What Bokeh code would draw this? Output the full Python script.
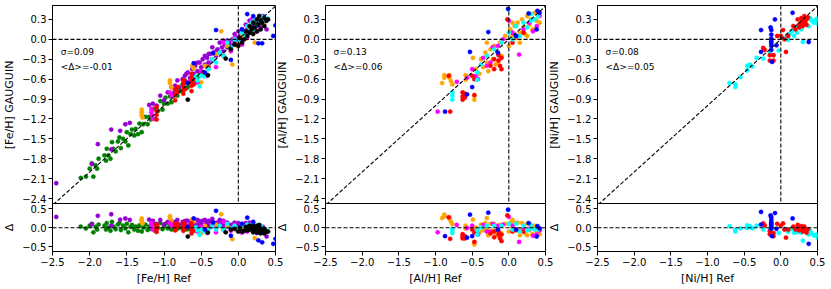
from bokeh.plotting import figure
from bokeh.layouts import row, column
from bokeh.models import (Range1d, FixedTicker, CustomJSTickFormatter, Span, Slope,
                          Label, ColumnDataSource)
from bokeh.embed import file_html
from bokeh.resources import INLINE

FONT = "DejaVu Sans"

# ---------------- tick values ----------------
x_ticks = [-2.5, -2.0, -1.5, -1.0, -0.5, 0.0, 0.5]
main_ticks = [0.3, 0.0, -0.3, -0.6, -0.9, -1.2, -1.5, -1.8, -2.1, -2.4]
res_ticks = [0.5, 0.0, -0.5]

# ---------------- [Fe/H] panel ----------------
fe_green_ref = [-2.12, -2.05, -2.0, -1.97, -1.95, -1.92, -1.9, -1.88, -1.8, -1.78, -1.77, -1.75, -1.72, -1.7,
                -1.68, -1.65, -1.62, -1.6, -1.58, -1.55, -1.52, -1.5, -1.48, -1.45, -1.43, -1.4, -1.38, -1.35,
                -1.33, -1.3, -1.28, -1.25, -1.22, -1.2, -1.18, -1.15, -1.12, -1.1, -1.08, -1.05, -1.02, -1.0,
                -0.98, -0.95, -0.92, -0.9, -0.88, -0.85, -0.82, -0.8, -0.78, -0.75, -0.7, -0.65, -0.6, -0.55,
                -0.72, -0.68, -0.62, -0.58, -0.52]
fe_green_gau = [-2.09, -2.07, -1.95, -1.87, -2.07, -1.90, -1.95, -1.80, -1.75, -1.83, -1.65, -1.75, -1.80, -1.55,
                -1.65, -1.69, -1.54, -1.48, -1.64, -1.50, -1.54, -1.40, -1.60, -1.43, -1.36, -1.45, -1.35, -1.43,
                -1.27, -1.40, -1.28, -1.17, -1.28, -1.17, -1.21, -1.05, -1.20, -1.05, -1.08, -0.93, -1.06, -0.97,
                -0.88, -0.97, -0.86, -0.95, -0.86, -0.77, -0.85, -0.75, -0.78, -0.68, -0.74, -0.63, -0.55, -0.57,
                -0.62, -0.72, -0.58, -0.65, -0.50]

fe_purple_ref = [-2.45, -1.97, -1.89, -1.71, -1.71, -1.59, -1.52, -1.46, -1.2, -1.15, -1.1, -1.05, -1.0, -0.95,
                 -0.9, -0.88, -0.85, -0.82, -0.8, -0.75, -0.72, -0.7, -0.68, -0.65, -0.62, -0.6, -0.58, -0.55,
                 -0.52, -0.5, -0.48, -0.45, -0.42, -0.4, -0.38, -0.35, -0.33, -0.3, -0.28, -0.25, -0.22, -0.2,
                 -0.18, -0.15, -0.12, -0.1, -0.08, -0.05, -0.03, 0.0, 0.02, 0.05, 0.08, 0.1, 0.12, 0.15, 0.18,
                 0.2, 0.22, 0.25, 0.28, 0.3, 0.33, 0.35, -0.3, -0.15, 0.05, 0.25, -0.55, -0.2, -0.4, 0.1, -0.7,
                 0.38, -0.45, -0.25, -0.05, 0.15, 0.3, -0.35, -0.6, 0.0, 0.2]
fe_purple_gau = [-2.17, -1.88, -1.58, -1.36, -1.66, -1.38, -1.28, -1.26, -0.99, -0.97, -1.0, -0.85, -0.92, -0.80,
                 -0.72, -0.82, -0.70, -0.62, -0.72, -0.60, -0.55, -0.65, -0.50, -0.58, -0.45, -0.52, -0.40, -0.48,
                 -0.35, -0.42, -0.30, -0.38, -0.28, -0.35, -0.22, -0.30, -0.20, -0.25, -0.15, -0.20, -0.12, -0.18,
                 -0.08, -0.12, -0.05, -0.10, 0.0, -0.05, 0.03, -0.02, 0.05, 0.0, 0.10, 0.05, 0.15, 0.10, 0.20,
                 0.15, 0.25, 0.20, 0.30, 0.25, 0.35, 0.28, -0.18, -0.02, 0.15, 0.12, -0.35, -0.02, -0.22, 0.22, -0.52,
                 0.15, -0.25, -0.05, 0.08, 0.28, 0.18, -0.12, -0.40, 0.12, 0.30]

fe_orange_ref = [-1.3, -1.3, -1.3, -1.29, -0.92, -0.92, -0.9, -0.62, -0.6, -0.5, -0.45, -0.3, -0.23, -0.15,
                 -0.08, -0.02, 0.05, 0.1, 0.15, 0.2, 0.22, 0.28, 0.3, 0.35, -0.35]
fe_orange_gau = [-1.06, -1.10, -1.14, -1.18, -0.62, -0.66, -0.72, -0.40, -0.44, -0.65, -0.40, -0.22, 0.12, -0.10,
                 -0.38, -0.09, 0.05, 0.02, 0.18, 0.12, -0.05, 0.25, 0.30, 0.22, -0.30]

fe_magenta_ref = [-1.17, -1.17, -1.16, -1.15, -0.92, -0.9, -0.55, -0.5, -0.42, -0.35, -0.3, -0.2, -0.1, -0.05,
                  0.05, 0.12, 0.18, 0.25, 0.3, 0.35, -0.65]
fe_magenta_gau = [-1.05, -1.10, -1.15, -1.20, -0.80, -0.85, -0.65, -0.48, -0.55, -0.32, -0.42, -0.05, -0.18, 0.02,
                  -0.08, 0.02, 0.30, 0.12, 0.35, 0.28, -0.62]

fe_red_ref = [-1.1, -1.1, -1.1, -1.1, -0.85, -0.85, -0.85, -0.82, -0.82, -0.74, -0.74, -0.74, -0.74, -0.74,
              -0.72, -0.72, -0.63, -0.63, -0.63, -0.63, -0.63, -0.6, -0.6, -0.46, -0.4, -0.2, 0.0]
fe_red_gau = [-1.02, -1.08, -1.14, -1.21, -0.76, -0.84, -0.92, -0.72, -0.80, -0.62, -0.67, -0.72, -0.77, -0.82,
              -0.65, -0.75, -0.52, -0.58, -0.64, -0.70, -0.78, -0.60, -0.68, -0.52, -0.42, -0.25, -0.05]

fe_cyan_ref = [-0.57, -0.55, -0.52, -0.5, -0.46, -0.4, -0.35, -0.3, -0.25, -0.2, -0.15, -0.1, -0.05, 0.0, 0.05,
               0.1, 0.12, 0.15, 0.18, 0.2, 0.22, 0.25, 0.28, 0.3, 0.32, 0.35, 0.38]
fe_cyan_gau = [-0.56, -0.62, -0.71, -0.55, -0.56, -0.45, -0.30, -0.35, -0.20, -0.25, -0.05, -0.12, 0.0, -0.02, 0.10,
               0.05, 0.20, 0.12, 0.25, 0.15, 0.30, 0.22, 0.28, 0.35, 0.25, 0.30, 0.32]

fe_blue_ref = [-0.68, -0.6, -0.34, -0.3, -0.1, 0.05, 0.12, 0.2, 0.27, 0.32, 0.47, 0.5, -0.45]
fe_blue_gau = [-0.66, -0.36, -0.21, 0.14, -0.31, 0.15, 0.38, 0.35, -0.06, -0.06, 0.05, 0.21, -0.50]

fe_black_ref = [-0.68, -0.41, -0.17, -0.1, -0.05, 0.0, 0.02, 0.05, 0.08, 0.1, 0.12, 0.15, 0.15, 0.18, 0.2, 0.2,
                0.22, 0.25, 0.25, 0.27, 0.28, 0.3, 0.3, 0.32, 0.35, 0.35, 0.38, 0.4]
fe_black_gau = [-0.91, -0.54, -0.29, -0.15, -0.08, -0.10, 0.02, -0.05, 0.0, 0.12, 0.05, 0.10, 0.20, 0.15, 0.25,
                0.08, 0.18, 0.30, 0.12, 0.22, 0.35, 0.28, 0.15, 0.25, 0.32, 0.20, 0.28, 0.30]

# ---------------- [Al/H] panel ----------------
al_orange_ref = [-0.88, -0.88, -0.81, -0.81, -0.91, -0.79, -0.77, -0.59, -0.59, -0.47, -0.47, -0.49, -0.45, -0.4,
                 -0.38, -0.35, -0.32, -0.3, -0.28, -0.25, -0.22, -0.2, -0.18, -0.15, -0.12, -0.1, -0.05, 0.0,
                 0.02, 0.05, 0.08, 0.1, 0.12, 0.15, 0.18, 0.2, 0.22, 0.25, 0.28, 0.3, 0.32, 0.35, 0.38, 0.4,
                 0.42, -0.3, -0.15, 0.05, 0.15, 0.25, 0.35]
al_orange_gau = [-0.54, -0.58, -0.54, -0.58, -0.66, -0.63, -0.68, -0.54, -0.61, -0.85, -0.91, -0.28, -0.45, -0.52,
                 -0.30, -0.42, -0.20, -0.35, -0.48, -0.15, -0.30, -0.10, -0.38, -0.20, -0.05, -0.25, 0.05, -0.10,
                 0.15, 0.05, 0.20, 0.02, 0.25, 0.10, 0.30, 0.18, 0.08, 0.35, 0.22, 0.30, 0.15, 0.40, 0.28, 0.38,
                 0.25, -0.05, -0.35, 0.25, -0.05, 0.05, 0.15]

al_magenta_ref = [-0.97, -0.71, -0.6, -0.57, -0.5, -0.45, -0.35, -0.3, -0.22, -0.15, -0.08, 0.0, 0.05, 0.1, 0.14,
                  0.2, 0.28, 0.33, 0.38, 0.42, -0.42, -0.25]
al_magenta_gau = [-1.09, -0.64, -0.86, -0.58, -0.45, -0.55, -0.28, -0.40, -0.12, -0.10, 0.0, 0.28, 0.10, 0.05,
                  -0.23, 0.15, 0.25, 0.12, 0.20, 0.35, -0.60, -0.35]

al_red_ref = [-0.8, -0.82, -0.63, -0.63, -0.63, -0.6, -0.6, -0.5, -0.47, -0.47, -0.25, -0.2, -0.2, -0.14, -0.14,
              -0.12, -0.1, -0.1, -0.02, 0.05, 0.2]
al_red_gau = [-1.09, -0.55, -0.80, -0.86, -0.91, -0.82, -0.88, -0.55, -0.60, -0.84, -0.40, -0.30, -0.45, -0.24,
              -0.32, -0.40, -0.28, -0.45, 0.30, -0.05, 0.10]

al_cyan_ref = [-0.77, -0.77, -0.77, -0.43, -0.43, -0.38, -0.3, -0.2, -0.1, 0.0, 0.05, 0.1, 0.15, 0.2, 0.25, 0.3,
               0.35, 0.4, -0.01, 0.3]
al_cyan_gau = [-0.80, -0.85, -0.91, -0.50, -0.61, -0.38, -0.25, -0.15, -0.05, 0.10, 0.0, 0.20, 0.05, 0.25, 0.18,
               0.28, 0.30, 0.35, 0.45, 0.38]

al_blue_ref = [-0.87, -0.57, -0.5, -0.53, -0.28, -0.15, -0.01, 0.27, 0.39, 0.42, 0.38, 0.1]
al_blue_gau = [-1.09, -0.83, -0.72, -0.19, 0.11, -0.20, 0.46, 0.39, 0.43, 0.40, 0.15, 0.05]

# ---------------- [Ni/H] panel ----------------
ni_cyan_ref = [-0.70, -0.62, -0.62, -0.55, -0.46, -0.46, -0.42, -0.39, -0.33, -0.24, -0.15, -0.03, 0.05, 0.1,
               0.12, 0.15, 0.18, 0.2, 0.22, 0.25, 0.28, 0.3, 0.32, 0.35, 0.38, 0.4, 0.42, 0.45, 0.48, 0.5, 0.5]
ni_cyan_gau = [-0.66, -0.68, -0.72, -0.57, -0.40, -0.47, -0.38, -0.41, -0.28, -0.29, -0.20, -0.17, 0.02, -0.01,
               0.08, 0.12, 0.05, 0.18, 0.10, 0.22, 0.15, -0.04, 0.25, 0.30, 0.20, 0.32, 0.28, 0.25, 0.30, 0.31, 0.24]

ni_red_ref = [-0.24, -0.22, -0.15, -0.1, -0.15, -0.1, 0.03, 0.0, 0.05, 0.07, 0.1, 0.17, 0.2, 0.23, 0.25, 0.25,
              0.28, 0.28, 0.3, 0.3, 0.32, 0.33, 0.35, 0.35, 0.37, -0.05]
ni_red_gau = [-0.13, -0.16, -0.24, -0.24, -0.32, -0.32, 0.14, 0.05, 0.0, -0.19, 0.05, 0.20, 0.15, 0.30, 0.22,
              0.18, 0.32, 0.25, 0.28, 0.20, 0.35, 0.25, 0.30, 0.22, 0.33, 0.05]

ni_blue_ref = [-0.27, -0.27, -0.13, -0.13, -0.13, -0.13, -0.13, -0.13, -0.13, -0.08, -0.06, 0.16, 0.38, -0.12,
               -0.14]
ni_blue_gau = [0.14, -0.19, 0.14, 0.07, 0.01, -0.03, -0.06, -0.10, -0.16, 0.30, -0.09, 0.40, -0.04, -0.34, 0.18]

# ---------------- statistics text ----------------
sigma_text = ["σ=0.09", "σ=0.13", "σ=0.08"]
mean_text = ["<Δ>=-0.01", "<Δ>=0.06", "<Δ>=0.05"]
elements = ["Fe", "Al", "Ni"]

GREEN, PURPLE, ORANGE, MAGENTA = "#008000", "#9400d3", "#ffa500", "#ff00ff"
RED, CYAN, BLUE, BLACK = "#ff0000", "#00ffff", "#0000ff", "#000000"

panel_series = [
    [(fe_green_ref, fe_green_gau, GREEN), (fe_purple_ref, fe_purple_gau, PURPLE),
     (fe_orange_ref, fe_orange_gau, ORANGE), (fe_magenta_ref, fe_magenta_gau, MAGENTA),
     (fe_red_ref, fe_red_gau, RED), (fe_cyan_ref, fe_cyan_gau, CYAN),
     (fe_black_ref, fe_black_gau, BLACK), (fe_blue_ref, fe_blue_gau, BLUE)],
    [(al_orange_ref, al_orange_gau, ORANGE), (al_magenta_ref, al_magenta_gau, MAGENTA),
     (al_red_ref, al_red_gau, RED), (al_cyan_ref, al_cyan_gau, CYAN),
     (al_blue_ref, al_blue_gau, BLUE)],
    [(ni_cyan_ref, ni_cyan_gau, CYAN), (ni_red_ref, ni_red_gau, RED),
     (ni_blue_ref, ni_blue_gau, BLUE)],
]

# ---------------- layout constants ----------------
LBS = [50, 47, 47]
W, RB = 225, 10
TB, HM, HR, BB = 5, 199, 52, 32
OVERLAPS = [0, 12, 10]
TICK_FS, LABEL_FS, NOTE_FS = "10px", "11px", "9px"
DASH = "4 2"
MSIZE = 4.3


def fmt():
    return CustomJSTickFormatter(code="return tick.toFixed(1).replace('-', '\u2212');")


def style_axis(ax, ticks, label):
    ax.ticker = FixedTicker(ticks=ticks)
    ax.formatter = fmt()
    ax.axis_label = label
    ax.axis_label_text_font = FONT
    ax.axis_label_text_font_size = LABEL_FS
    ax.axis_label_text_font_style = "normal"
    ax.axis_label_text_color = "black"
    ax.axis_label_standoff = 3
    ax.major_label_text_font = FONT
    ax.major_label_text_font_size = TICK_FS
    ax.major_label_text_color = "black"
    ax.major_label_standoff = 2
    ax.major_tick_out = 4
    ax.major_tick_in = 0
    ax.minor_tick_out = 0
    ax.minor_tick_in = 0
    ax.axis_line_color = "black"
    ax.major_tick_line_color = "black"


def base_style(p):
    p.grid.visible = False
    p.outline_line_color = "black"
    p.outline_line_width = 1
    p.outline_line_alpha = 1
    p.border_fill_alpha = 0
    p.background_fill_color = "white"


columns = []
for i, el in enumerate(elements):
    LB = LBS[i]
    xr = Range1d(-2.5, 0.5)
    main = figure(width=LB + W + RB, height=TB + HM, x_range=xr, y_range=Range1d(-2.49, 0.51),
                  output_backend="svg", toolbar_location=None, x_axis_location=None,
                  min_border_left=LB, min_border_right=RB, min_border_top=TB, min_border_bottom=0)
    res = figure(width=LB + W + RB, height=HR + BB, x_range=xr, y_range=Range1d(-0.62, 0.63),
                 output_backend="svg", toolbar_location=None,
                 min_border_left=LB, min_border_right=RB, min_border_top=0, min_border_bottom=BB)
    res.margin = (-1, 0, 0, 0)
    for p in (main, res):
        base_style(p)
    style_axis(main.yaxis[0], main_ticks, f"[{el}/H] GAUGUIN")
    style_axis(res.yaxis[0], res_ticks, "Δ")
    style_axis(res.xaxis[0], x_ticks, f"[{el}/H] Ref")

    # reference lines
    main.add_layout(Slope(gradient=1, y_intercept=0, line_color="black", line_dash=DASH, line_width=1.1))
    main.add_layout(Span(location=0, dimension="width", line_color="black", line_dash=DASH, line_width=1.1))
    main.add_layout(Span(location=0, dimension="height", line_color="black", line_dash=DASH, line_width=1.1))
    res.add_layout(Span(location=0, dimension="width", line_color="black", line_dash=DASH, line_width=1.1))

    for ref, gau, col in panel_series[i]:
        delta = [g - r for r, g in zip(ref, gau)]
        src = ColumnDataSource(dict(ref=ref, gau=gau, delta=delta))
        main.scatter(x="ref", y="gau", source=src, size=MSIZE, fill_color=col, line_color=col, line_width=0.4)
        res.scatter(x="ref", y="delta", source=src, size=MSIZE, fill_color=col, line_color=col, line_width=0.4)

    main.add_layout(Label(x=-2.39, y=-0.19, text=sigma_text[i], text_font=FONT, text_font_size=NOTE_FS,
                          text_baseline="middle", text_align="left", text_color="black"))
    main.add_layout(Label(x=-2.39, y=-0.42, text=mean_text[i], text_font=FONT, text_font_size=NOTE_FS,
                          text_baseline="middle", text_align="left", text_color="black"))

    col_layout = column(main, res, spacing=0)
    if OVERLAPS[i]:
        col_layout.margin = (0, 0, 0, -OVERLAPS[i])
    columns.append(col_layout)

p = row(*columns, spacing=0)

open("out.html", "w").write(file_html(p, INLINE))
